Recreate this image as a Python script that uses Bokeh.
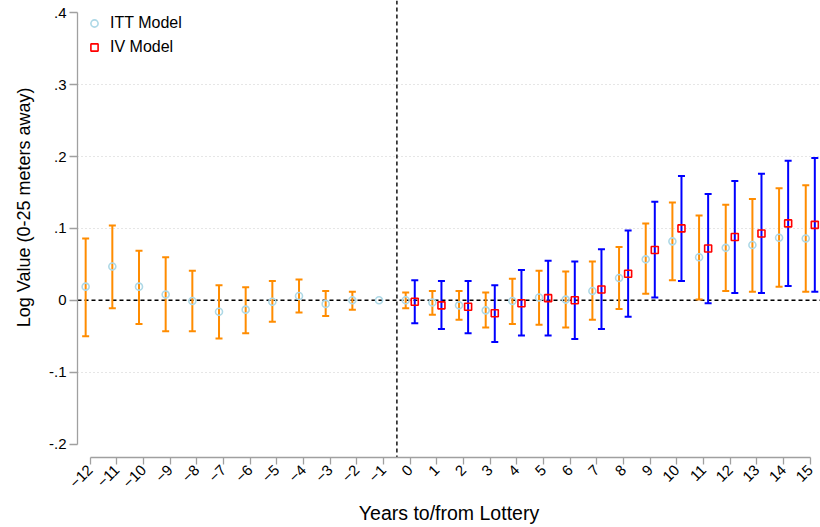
from math import pi
from bokeh.plotting import figure
from bokeh.models import (ColumnDataSource, Whisker, TeeHead, Span, FixedTicker,
                          Title, Legend, LegendItem)
from bokeh.embed import file_html
from bokeh.resources import INLINE

# ---------------- data ----------------
years = [-12, -11, -10, -9, -8, -7, -6, -5, -4, -3, -2, -1,
         0, 1, 2, 3, 4, 5, 6, 7, 8, 9, 10, 11, 12, 13, 14, 15]
itt_coef = [0.019, 0.047, 0.019, 0.008, -0.001, -0.016, -0.013, -0.002, 0.006, -0.005, 0.000, 0.000,
            0.000, -0.003, -0.007, -0.014, -0.001, 0.004, 0.001, 0.013, 0.031, 0.057, 0.082, 0.060,
            0.073, 0.077, 0.087, 0.086]
itt_hi = [0.086, 0.104, 0.069, 0.060, 0.041, 0.021, 0.018, 0.027, 0.029, 0.013, 0.012, None,
          0.011, 0.013, 0.013, 0.011, 0.030, 0.041, 0.040, 0.054, 0.074, 0.107, 0.136, 0.118,
          0.133, 0.141, 0.156, 0.160]
itt_lo = [-0.050, -0.011, -0.033, -0.043, -0.043, -0.053, -0.046, -0.030, -0.017, -0.022, -0.013, None,
          -0.011, -0.020, -0.027, -0.038, -0.033, -0.034, -0.038, -0.027, -0.012, 0.009, 0.028, 0.001,
          0.013, 0.012, 0.019, 0.012]

iv_years = [0, 1, 2, 3, 4, 5, 6, 7, 8, 9, 10, 11, 12, 13, 14, 15]
iv_coef = [-0.002, -0.007, -0.009, -0.018, -0.004, 0.003, 0.000, 0.015, 0.037, 0.070, 0.100, 0.072,
           0.088, 0.093, 0.107, 0.105]
iv_hi = [0.028, 0.027, 0.027, 0.021, 0.042, 0.055, 0.054, 0.071, 0.097, 0.137, 0.173, 0.148,
         0.166, 0.176, 0.194, 0.198]
iv_lo = [-0.032, -0.040, -0.046, -0.058, -0.049, -0.049, -0.054, -0.040, -0.023, 0.004, 0.027, -0.004,
         0.010, 0.010, 0.020, 0.012]

x_ticks = list(range(-12, 16))
y_ticks = [-0.2, -0.1, 0.0, 0.1, 0.2, 0.3, 0.4]
y_tick_labels = ["-.2", "-.1", "0", ".1", ".2", ".3", ".4"]
grid_ticks = [-0.1, 0.1, 0.2, 0.3]
lottery_line = -0.5

legend_labels = ["ITT Model", "IV Model"]
x_title = "Years to/from Lottery"
y_title = "Log Value (0-25 meters away)"

# ---------------- style ----------------
FONT = "Liberation Sans"
ITT_OFF = -0.17
IV_OFF = 0.17
ORANGE = "#FF8C00"
BLUE = "#0000FF"
LIGHTBLUE = "#ADD8E6"
RED = "#FF0000"
AXIS_GREY = "#A0A0A0"

X0, X1 = -12.476, 15.383
Y0, Y1 = -0.2187, 0.4171

p = figure(frame_width=743, frame_height=457,
           min_border_left=76, min_border_right=0, min_border_top=0, min_border_bottom=0,
           x_range=(X0, X1), y_range=(Y0, Y1),
           output_backend="svg", toolbar_location=None,
           background_fill_color="white", border_fill_color="white")
p.outline_line_color = None

# grid
p.xgrid.visible = False
p.ygrid.ticker = FixedTicker(ticks=grid_ticks)
p.ygrid.grid_line_color = "#CCCCCC"
p.ygrid.grid_line_dash = "1 3"
p.ygrid.grid_line_width = 1

# reference lines
p.add_layout(Span(location=0, dimension="width", line_color="black",
                  line_dash="4 3", line_width=1.4, level="underlay"))
p.add_layout(Span(location=lottery_line, dimension="height", line_color="black",
                  line_dash="4 3", line_width=1.4, level="underlay"))

# ITT whiskers
itt_w = [(y + ITT_OFF, lo, hi) for y, lo, hi in zip(years, itt_lo, itt_hi) if hi is not None]
src_itt_w = ColumnDataSource(dict(x=[a for a, _, _ in itt_w],
                                  lo=[b for _, b, _ in itt_w],
                                  hi=[c for _, _, c in itt_w]))
w1 = Whisker(source=src_itt_w, base="x", upper="hi", lower="lo",
             line_color=ORANGE, line_width=2, level="underlay",
             upper_head=TeeHead(size=7, line_color=ORANGE, line_width=2),
             lower_head=TeeHead(size=7, line_color=ORANGE, line_width=2))
p.add_layout(w1)

# IV whiskers
src_iv = ColumnDataSource(dict(x=[y + IV_OFF for y in iv_years], coef=iv_coef,
                               lo=iv_lo, hi=iv_hi))
w2 = Whisker(source=src_iv, base="x", upper="hi", lower="lo",
             line_color=BLUE, line_width=2, level="underlay",
             upper_head=TeeHead(size=7, line_color=BLUE, line_width=2),
             lower_head=TeeHead(size=7, line_color=BLUE, line_width=2))
p.add_layout(w2)

# points
src_itt = ColumnDataSource(dict(x=[y + ITT_OFF for y in years], coef=itt_coef))
r_itt = p.scatter("x", "coef", source=src_itt, marker="circle", size=7,
                  fill_color=None, line_color=LIGHTBLUE, line_width=1.6)
r_iv = p.scatter("x", "coef", source=src_iv, marker="square", size=7,
                 fill_color=None, line_color=RED, line_width=1.6)

# legend (offset from the frame's bottom-left corner)
legend = Legend(items=[LegendItem(label=legend_labels[0], renderers=[r_itt]),
                       LegendItem(label=legend_labels[1], renderers=[r_iv])],
                location=(8, 400), margin=0, padding=0, spacing=4,
                glyph_width=18, glyph_height=20, label_standoff=7,
                label_text_font=FONT, label_text_font_size="16px",
                label_text_color="#000000",
                border_line_color=None, background_fill_alpha=0)
p.add_layout(legend)

# x axis
xa = p.xaxis[0]
xa.ticker = FixedTicker(ticks=x_ticks)
xa.bounds = (x_ticks[0], x_ticks[-1])
xa.major_label_orientation = pi / 4
xa.axis_line_color = AXIS_GREY
xa.axis_line_width = 1.3
xa.major_tick_line_color = AXIS_GREY
xa.major_tick_line_width = 1.3
xa.major_tick_out = 7
xa.major_tick_in = 0
xa.minor_tick_line_color = None
xa.major_label_standoff = 3
xa.major_label_text_font = FONT
xa.major_label_text_font_size = "15px"
xa.major_label_text_color = "#000000"
xa.axis_label = x_title
xa.axis_label_text_font = FONT
xa.axis_label_text_font_size = "19.5px"
xa.axis_label_text_font_style = "normal"
xa.axis_label_text_color = "#000000"
xa.axis_label_standoff = 6

# y axis
ya = p.yaxis[0]
ya.ticker = FixedTicker(ticks=y_ticks)
ya.major_label_overrides = dict(zip(y_ticks, y_tick_labels))
ya.bounds = (y_ticks[0], y_ticks[-1])
ya.axis_line_color = AXIS_GREY
ya.axis_line_width = 1.3
ya.major_tick_line_color = AXIS_GREY
ya.major_tick_line_width = 1.3
ya.major_tick_out = 8
ya.major_tick_in = 0
ya.minor_tick_line_color = None
ya.major_label_standoff = 3
ya.major_label_text_font = FONT
ya.major_label_text_font_size = "15px"
ya.major_label_text_color = "#000000"

# y title as a side title so it can sit where the reference has it
p.add_layout(Title(text=y_title, align="right", offset=87, standoff=23,
                   text_font=FONT, text_font_size="18px", text_font_style="normal",
                   text_color="#000000"), "left")

open("out.html", "w").write(file_html(p, INLINE))
